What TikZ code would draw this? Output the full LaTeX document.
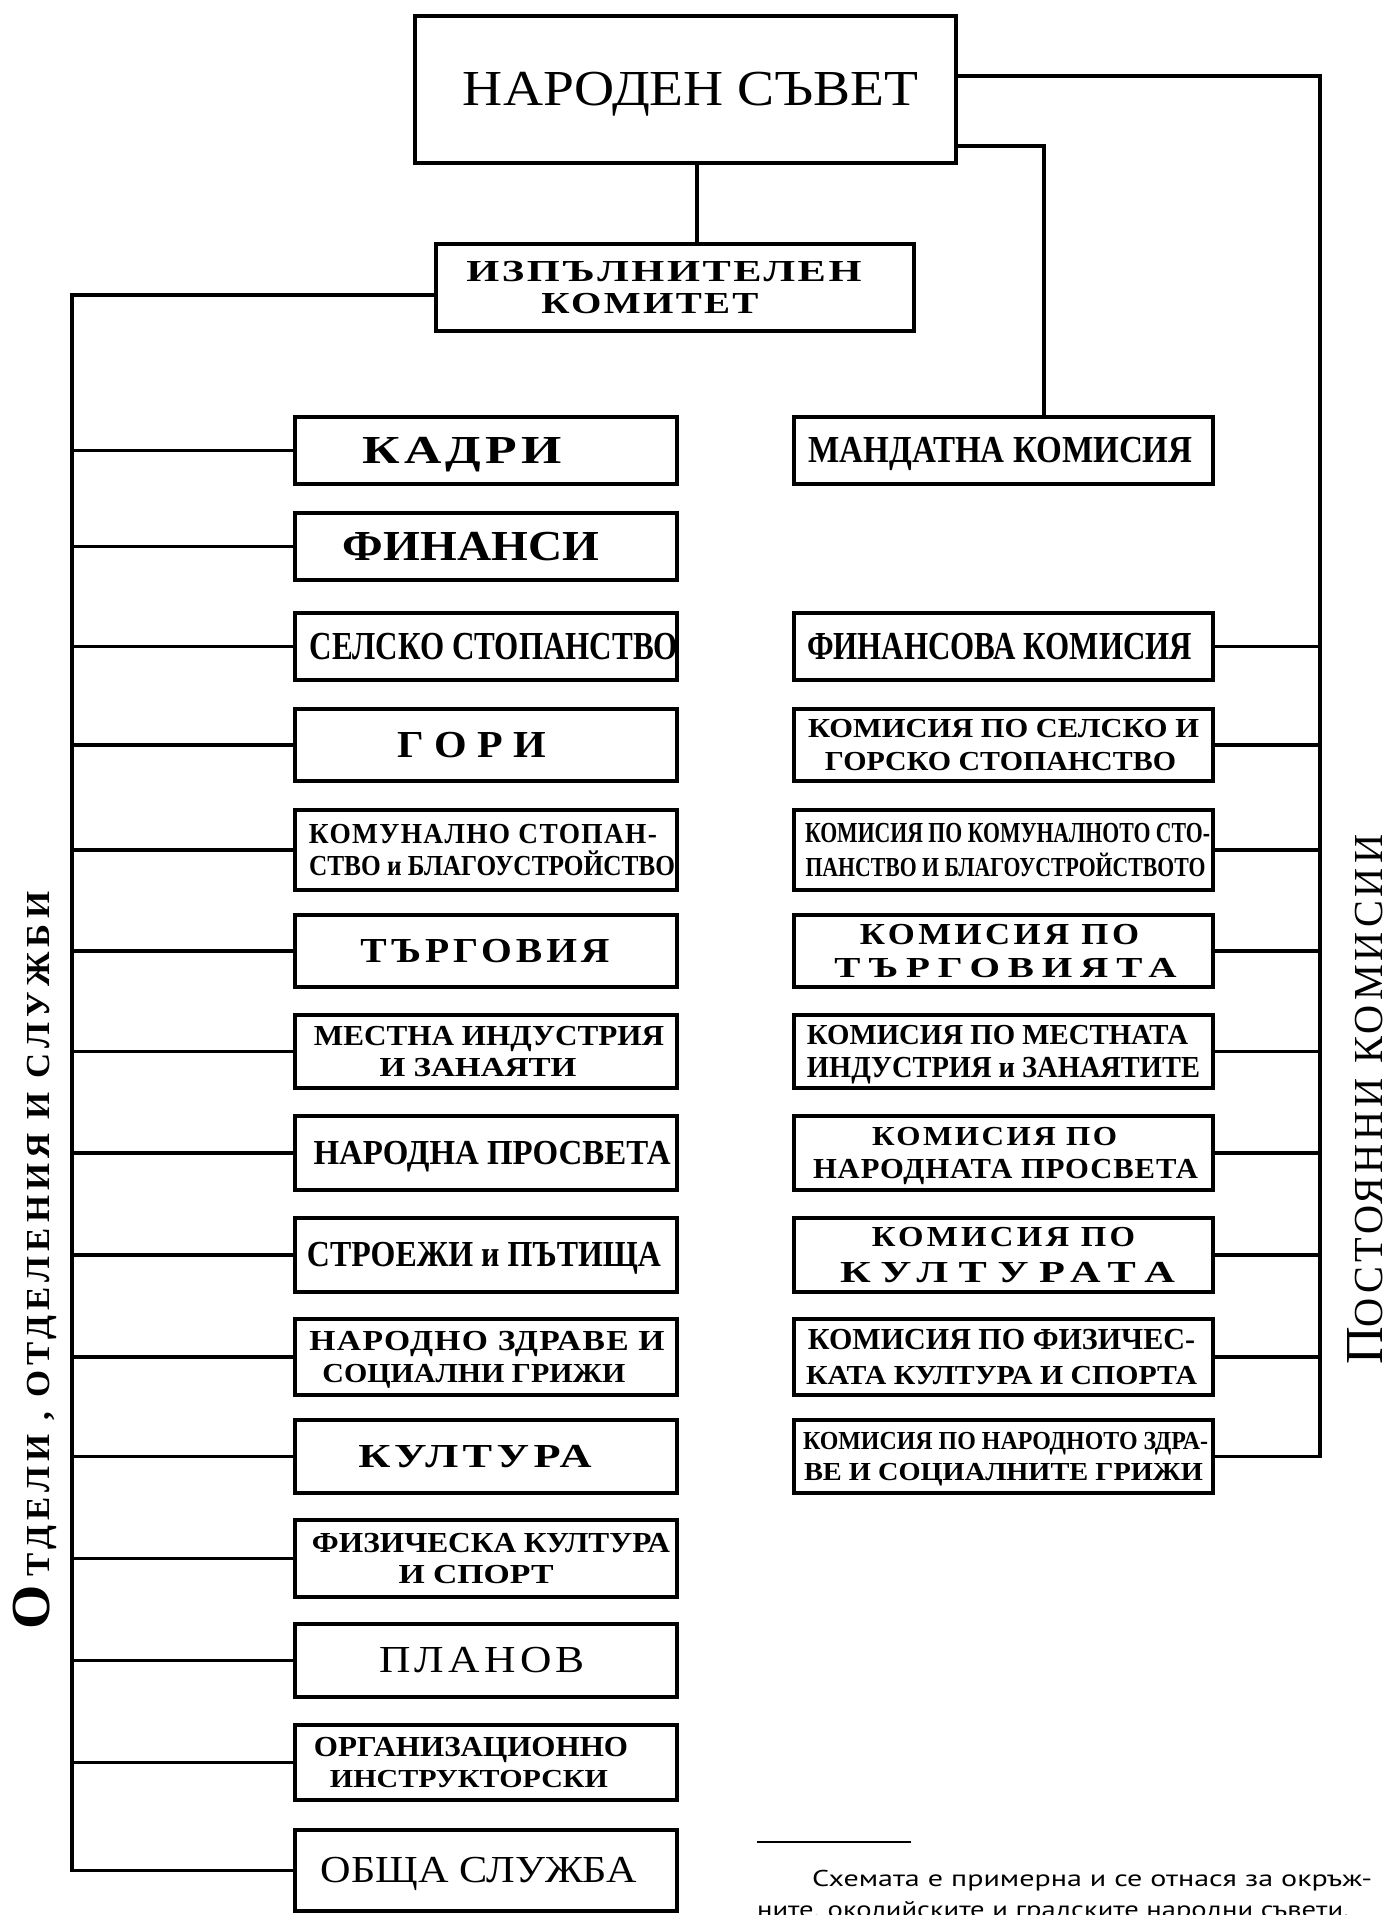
\documentclass[tikz,border=0pt]{standalone}
\usepackage{fontspec}
\usepackage{graphicx}
\setmainfont{Liberation Serif}
\newfontfamily\ptsans{PT Sans}
% fit one line of text to a given width and cap height (in pt = px)
\newcommand\fl[3]{\resizebox{#1pt}{#2pt}{\fontsize{20}{20}\selectfont\vphantom{Н}\smash{#3}}}
% one line of a box label, shifted by #1 from the box centre
\newcommand\bline[4]{\hspace*{\dimexpr #1pt*2\relax}\fl{#2}{#3}{#4}}
% stack of lines, taking no width of its own
\newcommand\stk[1]{\makebox[0pt]{\fontsize{1}{1}\selectfont\begin{tabular}{@{}c@{}}#1\end{tabular}}}
\newcommand\lsp[1]{\addfontfeatures{LetterSpace=#1}}
\begin{document}
\begin{tikzpicture}[x=1pt,y=-1pt,
  box/.style={draw, line width=4pt, inner sep=0pt, font=\bfseries},
  lbox/.style={box, minimum width=382pt, minimum height=#1},
  rbox/.style={box, minimum width=419pt, minimum height=#1},
  conn/.style={line width=3.5pt},
  vtext/.style={rotate=90, anchor=base west, inner sep=0pt}]
\useasboundingbox (0,0) rectangle (1388,1915);

% ---------- top ----------
\node[box, minimum width=541pt, minimum height=147pt] (ns) at (685.5,89.5)
  {\stk{\bline{5}{455}{33}{\mdseries НАРОДЕН СЪВЕТ}}};
\node[box, minimum width=478pt, minimum height=87pt] (izp) at (675,287.5)
  {\stk{\bline{-11}{395}{20}{\lsp{6}ИЗПЪЛНИТЕЛЕН}\\[11pt]
        \bline{-25}{217}{20}{\lsp{6}КОМИТЕТ}}};

% ---------- left column: departments ----------
\node[lbox=67pt] (l1) at (486,450.5) {\stk{\bline{-24}{199}{26}{\lsp{8}КАДРИ}}};
\node[lbox=67pt] (l2) at (486,546.5) {\stk{\bline{-15}{256}{28}{ФИНАНСИ}}};
\node[lbox=67pt] (l3) at (486,646.5) {\stk{\bline{8}{368}{26}{СЕЛСКО СТОПАНСТВО}}};
\node[lbox=72pt] (l4) at (486,745) {\stk{\bline{-14}{148}{25}{\lsp{25}ГОРИ}}};
\node[lbox=80pt] (l5) at (486,850) {\stk{\bline{-3}{348}{19}{\lsp{5}КОМУНАЛНО СТОПАН-}\\[13pt]
   \bline{6}{366}{19}{СТВО и БЛАГОУСТРОЙСТВО}}};
\node[lbox=72pt] (l6) at (486,951) {\stk{\bline{-1}{249}{23}{\lsp{10}ТЪРГОВИЯ}}};
\node[lbox=73pt] (l7) at (486,1051.5) {\stk{\bline{3}{350}{19}{МЕСТНА ИНДУСТРИЯ}\\[12pt]
   \bline{-8}{197}{18}{И ЗАНАЯТИ}}};
\node[lbox=74pt] (l8) at (486,1153) {\stk{\bline{6}{357}{23}{НАРОДНА ПРОСВЕТА}}};
\node[lbox=74pt] (l9) at (486,1255) {\stk{\bline{-2}{354}{24}{СТРОЕЖИ и ПЪТИЩА}}};
\node[lbox=76pt] (l10) at (486,1357) {\stk{\bline{1}{355}{19}{\lsp{4}НАРОДНО ЗДРАВЕ И}\\[14pt]
   \bline{-12}{303}{18}{СОЦИАЛНИ ГРИЖИ}}};
\node[lbox=73pt] (l11) at (486,1456.5) {\stk{\bline{-11}{233}{22}{\lsp{10}КУЛТУРА}}};
\node[lbox=77pt] (l12) at (486,1558.5) {\stk{\bline{5}{358}{19}{ФИЗИЧЕСКА КУЛТУРА}\\[13pt]
   \bline{-10}{155}{18}{И СПОРТ}}};
\node[lbox=73pt] (l13) at (486,1660.5) {\stk{\bline{-4}{206}{25}{\mdseries\lsp{10}ПЛАНОВ}}};
\node[lbox=75pt] (l14) at (486,1762.5) {\stk{\bline{-15}{314}{19}{ОРГАНИЗАЦИОННО}\\[13pt]
   \bline{-17}{278}{17}{ИНСТРУКТОРСКИ}}};
\node[lbox=81pt] (l15) at (486,1870.5) {\stk{\bline{-7}{316}{25}{\mdseries ОБЩА СЛУЖБА}}};

% ---------- right column: standing commissions ----------
\node[rbox=67pt] (r1) at (1003.5,450.5) {\stk{\bline{-3}{384}{25}{МАНДАТНА КОМИСИЯ}}};
\node[rbox=67pt] (r2) at (1003.5,646.5) {\stk{\bline{-4}{385}{26}{ФИНАНСОВА КОМИСИЯ}}};
\node[rbox=72pt] (r3) at (1003.5,745) {\stk{\bline{0}{391}{18}{КОМИСИЯ ПО СЕЛСКО И}\\[14pt]
   \bline{-3}{351}{18}{ГОРСКО СТОПАНСТВО}}};
\node[rbox=80pt] (r4) at (1003.5,850) {\stk{\bline{4}{405}{19}{КОМИСИЯ ПО КОМУНАЛНОТО СТО-}\\[15pt]
   \bline{2}{400}{18}{ПАНСТВО И БЛАГОУСТРОЙСТВОТО}}};
\node[rbox=72pt] (r5) at (1003.5,951) {\stk{\bline{-4}{279}{20}{\lsp{10}КОМИСИЯ ПО}\\[13pt]
   \bline{2}{342}{19}{\lsp{20}ТЪРГОВИЯТА}}};
\node[rbox=73pt] (r6) at (1003.5,1051.5) {\stk{\bline{-6}{381}{19}{КОМИСИЯ ПО МЕСТНАТА}\\[12pt]
   \bline{0}{393}{20}{ИНДУСТРИЯ и ЗАНАЯТИТЕ}}};
\node[rbox=74pt] (r7) at (1003.5,1153) {\stk{\bline{-9}{245}{18}{\lsp{8}КОМИСИЯ ПО}\\[14pt]
   \bline{2}{385}{19}{\lsp{3}НАРОДНАТА ПРОСВЕТА}}};
\node[rbox=74pt] (r8) at (1003.5,1255) {\stk{\bline{0}{263}{19}{\lsp{10}КОМИСИЯ ПО}\\[15pt]
   \bline{4}{335}{20}{\lsp{25}КУЛТУРАТА}}};
\node[rbox=76pt] (r9) at (1003.5,1357) {\stk{\bline{-2}{387}{20}{КОМИСИЯ ПО ФИЗИЧЕС-}\\[16pt]
   \bline{-2}{391}{18}{КАТА КУЛТУРА И СПОРТА}}};
\node[rbox=73pt] (r10) at (1003.5,1456.5) {\stk{\bline{2}{405}{17}{КОМИСИЯ ПО НАРОДНОТО ЗДРА-}\\[13pt]
   \bline{0}{399}{17}{ВЕ И СОЦИАЛНИТЕ ГРИЖИ}}};

% ---------- connectors ----------
\coordinate (rtop) at (1320,76);
\coordinate (mtop) at (1044,146);
\coordinate (vx) at (697,0);
\coordinate (ltop) at (72,295);
\draw[conn] (ns.east |- rtop) -- (rtop) |- (r10.east);
\draw[conn] (ns.east |- mtop) -| (r1.north -| mtop);
\draw[conn] (ns.south -| vx) -- (izp.north -| vx);
\draw[conn] (izp.west |- ltop) -- (ltop) |- (l15.west);
\foreach \i in {1,...,14} \draw[conn] (l\i.west) -- (l\i.west -| ltop);
\foreach \i in {2,...,9} \draw[conn] (r\i.east) -- (r\i.east -| rtop);

% ---------- vertical titles ----------
\node[vtext] (vl) at (49,1630)
  {\resizebox{738pt}{36pt}{\fontsize{36}{36}\selectfont\bfseries\vphantom{Н}\smash{О\hspace{6pt}\fontsize{22}{22}\selectfont\addfontfeatures{LetterSpace=15}ТДЕЛИ , ОТДЕЛЕНИЯ И СЛУЖБИ}}};
\node[vtext] (vr) at (1382,1365)
  {\resizebox{530pt}{35pt}{\fontsize{35}{35}\selectfont\vphantom{П}\smash{П\fontsize{27}{27}\selectfont\addfontfeatures{LetterSpace=10}ОСТОЯННИ КОМИСИИ}}};

% ---------- footnote ----------
\coordinate (fr1) at (757,1842);
\coordinate (fr2) at (911,1842);
\draw[line width=1.5pt] (fr1) -- (fr2);
\node[anchor=base west, inner sep=0pt, font=\ptsans] (fn1) at (812,1886)
  {\fl{560}{16}{Схемата е примерна и се отнася за окръж-}};
\node[anchor=base west, inner sep=0pt, font=\ptsans] (fn2) at (757,1917)
  {\fl{592}{16}{ните, околийските и градските народни съвети.}};
\end{tikzpicture}
\end{document}
